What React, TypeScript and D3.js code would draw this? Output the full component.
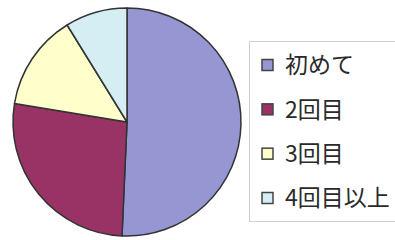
import React, { useEffect, useRef } from "react";
import * as d3 from "d3";

const labels = ["初めて", "2回目", "3回目", "4回目以上"];
const values = [50.7, 26.9, 13.6, 8.8];
const colors = ["#9696d2", "#993366", "#ffffcc", "#d4eef4"];

export default function App() {
  const svgRef = useRef<SVGSVGElement>(null);
  const width = 395;
  const height = 240;

  useEffect(() => {
    const svg = d3.select(svgRef.current);
    svg.selectAll("*").remove();

    svg.append("rect").attr("width", width).attr("height", height).attr("fill", "#fff");

    // pie, starting at 12 o'clock, clockwise, no sorting
    const pie = d3.pie<number>().sort(null).value((d) => d);
    const arc = d3.arc<d3.PieArcDatum<number>>().innerRadius(0).outerRadius(114);

    const g = svg.append("g").attr("transform", "translate(127,122)");
    g.selectAll("path")
      .data(pie(values))
      .join("path")
      .attr("d", arc)
      .attr("fill", (d, i) => colors[i])
      .attr("stroke", "#333")
      .attr("stroke-width", 1.5)
      .attr("stroke-linejoin", "round");

    // legend
    const legend = svg.append("g");
    legend.append("rect")
      .attr("x", 249.5)
      .attr("y", 41.5)
      .attr("width", 160)
      .attr("height", 180)
      .attr("fill", "#fff")
      .attr("stroke", "#d0d0d0");

    const y = d3.scalePoint<string>().domain(labels).range([65, 198]);

    const items = legend.selectAll("g.item")
      .data(labels)
      .join("g")
      .attr("class", "item")
      .attr("transform", (d) => `translate(0,${y(d)})`);

    items.append("rect")
      .attr("x", 262)
      .attr("y", -5.5)
      .attr("width", 11)
      .attr("height", 11)
      .attr("fill", (d, i) => colors[i])
      .attr("stroke", "#444")
      .attr("stroke-width", 1.5);

    items.append("text")
      .attr("x", 285)
      .attr("dy", "0.36em")
      .attr("font-family", "'Noto Sans CJK JP', sans-serif")
      .attr("font-size", 23)
      .attr("fill", "#2a2a2a")
      .text((d) => d);
  }, []);

  return (
    <svg
      ref={svgRef}
      width={width}
      height={height}
      style={{ position: "absolute", left: 0, top: 0 }}
    />
  );
}
